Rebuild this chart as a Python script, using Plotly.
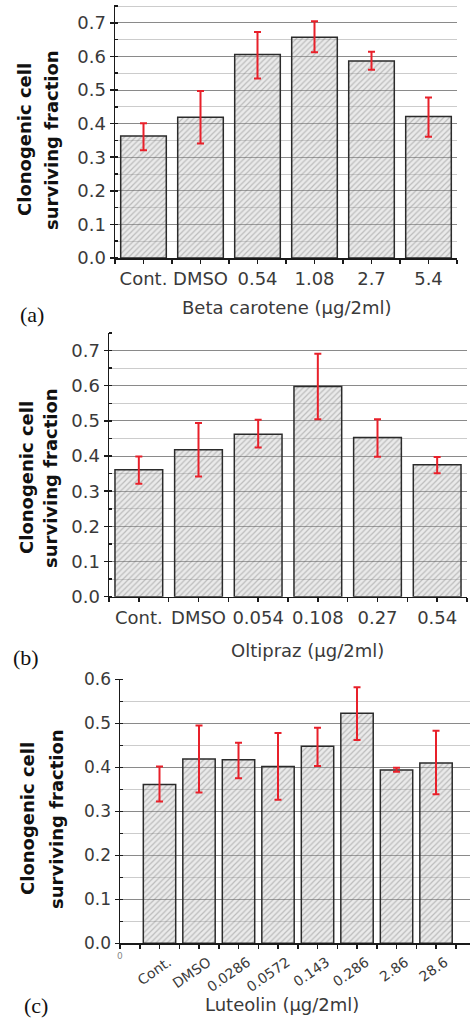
import plotly.graph_objects as go

W, H = 470, 1021

# ---------------- data ----------------
cats_a = ["Cont.", "DMSO", "0.54", "1.08", "2.7", "5.4"]
vals_a = [0.363, 0.419, 0.606, 0.657, 0.586, 0.421]
err_up_a = [0.038, 0.078, 0.067, 0.048, 0.028, 0.057]
err_dn_a = [0.042, 0.078, 0.072, 0.045, 0.026, 0.060]

cats_b = ["Cont.", "DMSO", "0.054", "0.108", "0.27", "0.54"]
vals_b = [0.361, 0.418, 0.462, 0.598, 0.453, 0.375]
err_up_b = [0.038, 0.076, 0.041, 0.093, 0.052, 0.022]
err_dn_b = [0.040, 0.076, 0.038, 0.093, 0.055, 0.024]

cats_c = ["Cont.", "DMSO", "0.0286", "0.0572", "0.143", "0.286", "2.86", "28.6"]
vals_c = [0.361, 0.419, 0.417, 0.402, 0.448, 0.523, 0.394, 0.410]
err_up_c = [0.041, 0.076, 0.039, 0.076, 0.042, 0.059, 0.005, 0.073]
err_dn_c = [0.039, 0.076, 0.042, 0.076, 0.045, 0.061, 0.004, 0.071]

xtitle_a = "Beta carotene (μg/2ml)"
xtitle_b = "Oltipraz (μg/2ml)"
xtitle_c = "Luteolin (μg/2ml)"

# ---------------- styles ----------------
RED = "#e8202a"
TICKFONT = dict(family="DejaVu Sans", size=18, color="#3a3a3a")
BARBG = "rgba(195,195,195,0.35)"
pattern = dict(shape="/", fgcolor="rgba(90,90,90,0.65)", bgcolor=BARBG,
               size=4, solidity=0.3)


def bar_trace(x, y, up, dn, xa, ya, width):
    return go.Bar(
        x=x, y=y, width=width, xaxis=xa, yaxis=ya,
        marker=dict(color=BARBG, pattern=pattern,
                    line=dict(color="#2b2b2b", width=1.5)),
        error_y=dict(type="data", symmetric=False, array=up, arrayminus=dn,
                     color=RED, thickness=2, width=3.5),
        showlegend=False, hoverinfo="skip",
    )


fig = go.Figure()
fig.add_trace(bar_trace(list(range(len(cats_a))), vals_a, err_up_a, err_dn_a, "x", "y", 0.8))
fig.add_trace(bar_trace(list(range(len(cats_b))), vals_b, err_up_b, err_dn_b, "x2", "y2", 0.8))
fig.add_trace(bar_trace(list(range(1, len(cats_c) + 1)), vals_c, err_up_c, err_dn_c, "x3", "y3", 0.82))


def px_dom_x(l, r):
    return [l / W, r / W]


def px_dom_y(top, bottom):
    return [1 - bottom / H, 1 - top / H]


def yaxis(dom, rng, anchor, tickfont):
    return dict(
        domain=dom, range=rng, anchor=anchor, dtick=0.1, tickformat=".1f",
        showline=True, linecolor="#1a1a1a", linewidth=1.5,
        ticks="outside", ticklen=4, tickwidth=1.5, tickcolor="#1a1a1a",
        tickfont=tickfont, showgrid=True, gridcolor="#8a8a8a", gridwidth=1,
        zeroline=False, automargin=False,
        minor=dict(dtick=0.05, showgrid=True, gridcolor="#cccccc", gridwidth=1,
                   ticks="inside", ticklen=3, tickcolor="#1a1a1a"),
        fixedrange=True,
    )


def xaxis(dom, rng, anchor, tickvals, ticktext, tickfont, tickangle=0, shift=0):
    return dict(
        domain=dom, range=rng, anchor=anchor,
        tickmode="array", tickvals=tickvals, ticktext=ticktext,
        tickangle=tickangle, tickfont=tickfont, ticklabelshift=shift,
        showline=True, linecolor="#1a1a1a", linewidth=1.5,
        ticks="outside", ticklen=4, tickwidth=1.5, tickcolor="#1a1a1a",
        showgrid=False, zeroline=False, automargin=False,
        minor=dict(dtick=0.5, tick0=0.5, ticks="outside", ticklen=4, tickcolor="#1a1a1a"),
        fixedrange=True,
    )


fig.update_layout(
    width=W, height=H, autosize=False,
    margin=dict(l=0, r=0, t=0, b=0, pad=0, autoexpand=False),
    paper_bgcolor="white", plot_bgcolor="white",
    bargap=0.2,
    xaxis=xaxis(px_dom_x(115, 457), [-0.5, len(cats_a) - 0.5], "y",
                list(range(len(cats_a))), cats_a, TICKFONT),
    yaxis=yaxis(px_dom_y(5, 258), [0, 0.753], "x", TICKFONT),
    xaxis2=xaxis(px_dom_x(109, 467), [-0.5, len(cats_b) - 0.5], "y2",
                 list(range(len(cats_b))), cats_b, TICKFONT),
    yaxis2=yaxis(px_dom_y(333, 596.7), [0, 0.75], "x2", TICKFONT),
    xaxis3=xaxis(px_dom_x(120, 470), [0, 8.86], "y3",
                 list(range(1, len(cats_c) + 1)), cats_c,
                 dict(family="DejaVu Sans", size=14, color="#3a3a3a"),
                 tickangle=-35, shift=9),
    yaxis3=yaxis(px_dom_y(679.3, 943.3), [0, 0.6], "x3",
                 dict(family="DejaVu Sans", size=17, color="#3a3a3a")),
)

ann = []
TITLEFONT = dict(family="DejaVu Sans", size=18, color="#111111")


def ylabel(xc1, xc2, yc):
    for xc, t in ((xc1, "<b>Clonogenic cell</b>"), (xc2, "<b>surviving fraction</b>")):
        ann.append(dict(text=t, x=xc / W, y=1 - yc / H, xref="paper", yref="paper",
                        xanchor="center", yanchor="middle", textangle=-90,
                        showarrow=False, font=TITLEFONT))


ylabel(25, 52, 140)
ylabel(26, 50, 478)
ylabel(27, 56, 819)

XT = dict(family="DejaVu Sans", size=18, color="#3a3a3a")
for t, xc, yc in ((xtitle_a, 287, 308), (xtitle_b, 307, 650), (xtitle_c, 282, 1004)):
    ann.append(dict(text=t, x=xc / W, y=1 - yc / H, xref="paper", yref="paper",
                    xanchor="center", yanchor="middle", showarrow=False, font=XT))

PL = dict(family="Liberation Serif", size=22, color="#111111")
for t, xc, yc in (("(a)", 32, 314), ("(b)", 26, 657), ("(c)", 36, 1005)):
    ann.append(dict(text=t, x=xc / W, y=1 - yc / H, xref="paper", yref="paper",
                    xanchor="center", yanchor="middle", showarrow=False, font=PL))

# small "0" at origin of panel (c)
ann.append(dict(text="0", x=0, y=0, xref="x3", yref="y3", xanchor="center", yanchor="top",
                yshift=-6, showarrow=False,
                font=dict(family="DejaVu Sans", size=9, color="#888888")))

fig.update_layout(annotations=ann)
fig.write_html(
    "out.html",
    config={"displayModeBar": False, "staticPlot": True},
    post_script="document.body.style.margin='0';document.body.style.overflow='hidden';",
)
